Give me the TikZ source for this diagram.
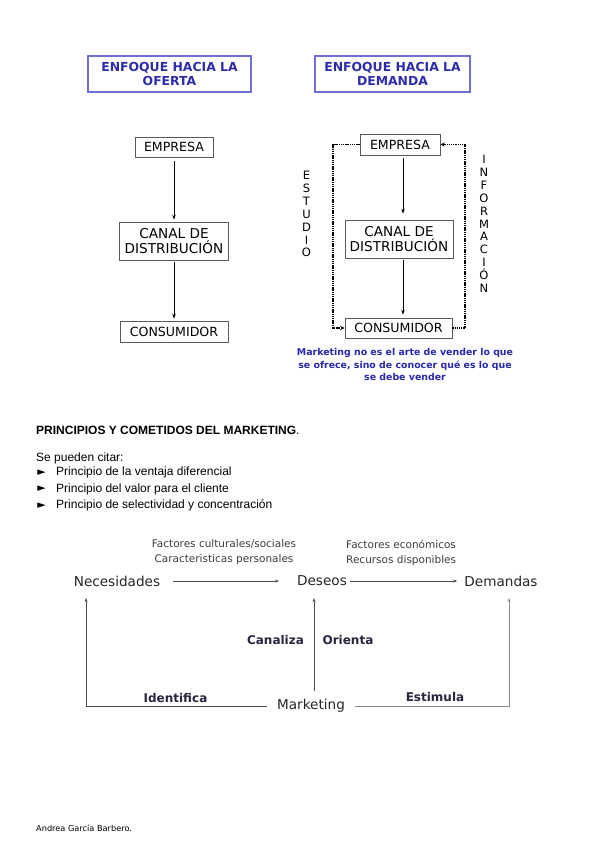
\documentclass[tikz,border=0pt]{standalone}
\usepackage{fontspec}
\setmainfont{Liberation Sans}
\newfontfamily\vd{DejaVu Sans}
\begin{document}
\usetikzlibrary{arrows.meta,calc}
\definecolor{tblue}{RGB}{110,110,215}
\definecolor{tbtext}{RGB}{45,45,170}
\definecolor{qblue}{RGB}{40,40,175}
\definecolor{navy}{RGB}{42,36,64}
\definecolor{dgray}{RGB}{60,60,60}
\begin{tikzpicture}[x=1pt,y=-1pt,
  tbox/.style={draw=tblue, line width=1.1pt, inner sep=0pt, align=center,
    font=\vd\bfseries\fontsize{12.4}{14}\selectfont, text=tbtext},
  fbox/.style={draw=black!65, line width=0.6pt, inner sep=0pt, align=center,
    font=\vd\fontsize{12.6}{14}\selectfont},
  cbox/.style={fbox, font=\vd\fontsize{13.6}{15.5}\selectfont},
  arr/.style={-{Stealth[length=5pt,width=3.5pt]}, line width=0.8pt},
  dotline/.style={line width=1.3pt, dash pattern=on 1.3pt off 0.9pt, -{Stealth[length=4.5pt,width=4pt]}},
  vlet/.style={font=\vd\fontsize{11.5}{12.9}\selectfont, align=center, inner sep=0pt},
  body/.style={font=\fontsize{12}{14}\selectfont, anchor=west, inner sep=0pt},
  bul/.style={font=\vd\fontsize{11}{12}\selectfont, inner sep=0pt},
  fac/.style={font=\vd\fontsize{10.5}{15}\selectfont, text=dgray, inner sep=0pt},
  big/.style={font=\vd\fontsize{13.6}{15}\selectfont, text=black!85, inner sep=2pt},
  blab/.style={font=\vd\bfseries\fontsize{12}{14}\selectfont, text=navy, inner sep=0pt},
  garr/.style={-{Stealth[length=4pt,width=3pt]}, line width=0.6pt, draw=black!70}
]
\useasboundingbox (0,0) rectangle (599,848);
\fill[white] (0,0) rectangle (599,848);

% title boxes
\node[tbox, minimum width=163pt, minimum height=36pt] (t1) at (169.5,74) {ENFOQUE HACIA LA\\OFERTA};
\node[tbox, minimum width=155pt, minimum height=36pt] (t2) at (392.5,74) {ENFOQUE HACIA LA\\DEMANDA};

% left column
\node[fbox, minimum width=78pt, minimum height=20pt] (le) at (174,147) {EMPRESA};
\node[cbox, minimum width=109pt, minimum height=38pt] (lc) at (174,241) {CANAL DE\\DISTRIBUCIÓN};
\node[fbox, minimum width=108pt, minimum height=21pt] (ls) at (174,331.5) {CONSUMIDOR};
\draw[arr, shorten <=4pt, shorten >=2pt] (le.south) -- (lc.north);
\draw[arr, shorten <=2pt, shorten >=2pt] (lc.south) -- (ls.north);

% right column
\node[fbox, minimum width=80pt, minimum height=21pt] (re) at (400,144.5) {EMPRESA};
\node[cbox, minimum width=108pt, minimum height=38pt] (rc) at (399,239) {CANAL DE\\DISTRIBUCIÓN};
\node[fbox, minimum width=107pt, minimum height=20pt] (rs) at (398.5,328) {CONSUMIDOR};
\draw[arr, shorten <=3pt, shorten >=6pt] ([xshift=3pt]re.south) -- ([xshift=3pt]re.south |- rc.north);
\draw[arr, shorten <=2pt, shorten >=3pt] ([xshift=4pt]rc.south) -- ([xshift=4pt]rc.south |- rs.north);

% dotted loop
\coordinate (dl) at (333,0);
\coordinate (dr) at (465,0);
\draw[dotline] (re.west) -- (re.west -| dl) -- (rs.west -| dl) -- (rs.west);
\draw[dotline] (rs.east) -- (rs.east -| dr) -- (re.east -| dr) -- (re.east);

\node[vlet, anchor=north] (est) at (306.5,171) {E\\S\\T\\U\\D\\I\\O};
\node[vlet, anchor=north] (inf) at (484,155) {I\\N\\F\\O\\R\\M\\A\\C\\I\\Ó\\N};

% quote
\node[font=\vd\bfseries\fontsize{9.4}{12.4}\selectfont, text=qblue, align=center, inner sep=0pt] (q) at (405,364.5)
  {Marketing no es el arte de vender lo que\\se ofrece, sino de conocer qué es lo que\\se debe vender};

% principles
\node[body] (pt) at (36,430) {\textbf{PRINCIPIOS Y COMETIDOS DEL MARKETING}.};
\node[body] (sp) at (36,458) {Se pueden citar:};
\node[body] (p1) at (56,472.5) {Principio de la ventaja diferencial};
\node[body] (p2) at (56,489) {Principio del valor para el cliente};
\node[body] (p3) at (56,505.5) {Principio de selectividad y concentración};
\node[bul] (b1) at (41.5,472.5) {►};
\node[bul] (b2) at (41.5,489) {►};
\node[bul] (b3) at (41.5,505.5) {►};

% marketing diagram
\node[fac, align=center] (f1) at (224,552.5) {Factores culturales/sociales\\Caracteristicas personales};
\node[fac, align=left, anchor=west] (f2) at (346,552.5) {Factores económicos\\Recursos disponibles};
\node[big] (nec) at (117,581) {Necesidades};
\node[big] (des) at (322,581) {Deseos};
\node[big] (dem) at (501,581) {Demandas};
\draw[garr, shorten <=11pt, shorten >=16pt] (nec.east) -- (des.west);
\draw[garr, shorten <=1pt, shorten >=5pt] (des.east) -- (dem.west);

\node[big, inner sep=5pt] (mk) at (311,706) {Marketing};
\coordinate (a1) at (86,598);
\coordinate (a2) at (314,598);
\coordinate (a3) at (509,598);
\draw[garr, shorten <=5pt] (mk.west) -| (a1);
\draw[garr] (mk.north -| a2) ++(0,-3) -- (a2);
\draw[garr, draw=black!45, shorten <=5pt] (mk.east) -| (a3);

\node[blab] (can) at (275.5,640) {Canaliza};
\node[blab] (ori) at (348,640) {Orienta};
\node[blab] (ide) at (175.5,698) {Identifica};
\node[blab] (sti) at (435,697) {Estimula};

\node[font=\vd\fontsize{8.2}{10}\selectfont, anchor=west, inner sep=0pt] (au) at (36,828) {Andrea García Barbero.};
\end{tikzpicture}
\end{document}
